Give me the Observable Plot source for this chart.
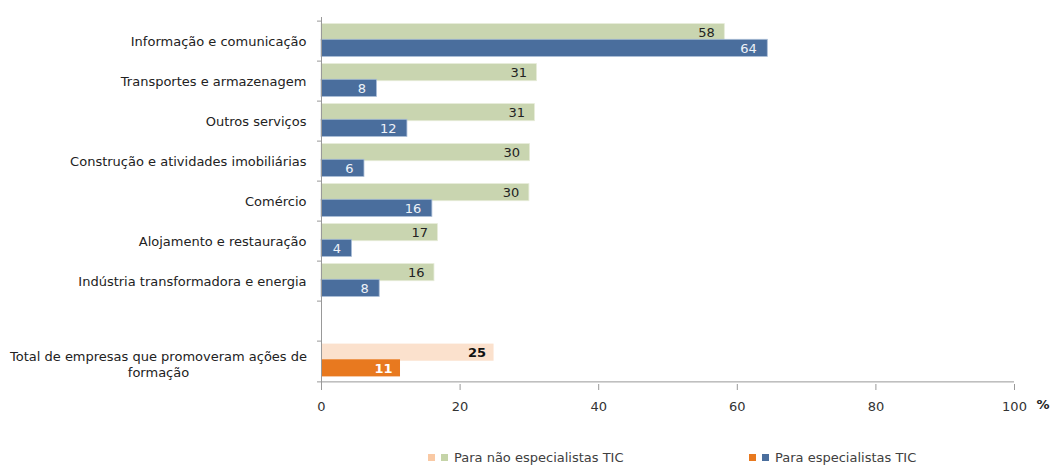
<!DOCTYPE html>
<html>
<head>
<meta charset="utf-8">
<script src="https://cdn.jsdelivr.net/npm/d3@7"></script>
<script src="https://cdn.jsdelivr.net/npm/@observablehq/plot@0.6"></script>
<style>
  body { margin: 0; background: #fff; font-family: "DejaVu Sans", sans-serif; }
  #wrap { position: relative; width: 1055px; height: 466px; }
  .legend { position: absolute; top: 450px; font-size: 13px; color: #404040; display: flex; align-items: center; }
  .sw { display: inline-block; width: 7px; height: 7px; margin-right: 6px; }
</style>
</head>
<body>
<div id="wrap"></div>
<script>
const sectors = [
  "Informação e comunicação",
  "Transportes e armazenagem",
  "Outros serviços",
  "Construção e atividades imobiliárias",
  "Comércio",
  "Alojamento e restauração",
  "Indústria transformadora e energia"
];
const totalLabel = "Total de empresas que promoveram ações de formação";
const naoEspecialistas = [58.2, 31.1, 30.8, 30.1, 30.0, 16.8, 16.3];
const especialistas = [64.4, 8.0, 12.4, 6.2, 16.0, 4.4, 8.4];
const totalNaoEspecialistas = 24.9;
const totalEspecialistas = 11.4;
const xTicks = [0, 20, 40, 60, 80, 100];
const legendLabels = ["Para não especialistas TIC", "Para especialistas TIC"];

const colors = { green: "#c9d5b0", blue: "#4a6e9d", lightOrange: "#fbe1cd", orange: "#e8791f" };
const legendColors = { lightOrange: "#f9c9a4", green: "#c5d4a8" };

const spacer = "__spacer__";
const domain = [...sectors, spacer, totalLabel];

const rowsNao = sectors.map((c, i) => ({cat: c, value: naoEspecialistas[i]}));
const rowsEsp = sectors.map((c, i) => ({cat: c, value: especialistas[i]}));
const totNao = [{cat: totalLabel, value: totalNaoEspecialistas}];
const totEsp = [{cat: totalLabel, value: totalEspecialistas}];

const W = 1055, H = 430, mT = 17, mB = 46, mL = 321, mR = 41;
const bw = (H - mT - mB) / domain.length;
const greenTop = 2.6, greenBot = bw - 20.5;
const blueTop = 18.3, blueBot = 4.6;
const font = "DejaVu Sans, sans-serif";

const chart = Plot.plot({
  width: W, height: H,
  marginTop: mT, marginBottom: mB, marginLeft: mL, marginRight: mR,
  style: { fontFamily: font, fontSize: "13px", color: "#333", background: "#fff" },
  x: { domain: [0, 100] },
  y: { domain, padding: 0 },
  marks: [
    // bars
    Plot.barX(rowsNao, {y: "cat", x: "value", fill: colors.green, insetTop: greenTop, insetBottom: greenBot, stroke: "#e6ecd9", strokeWidth: 0.8}),
    Plot.barX(rowsEsp, {y: "cat", x: "value", fill: colors.blue, insetTop: blueTop, insetBottom: blueBot, stroke: "#a9bcd6", strokeWidth: 0.8}),
    Plot.barX(totNao, {y: "cat", x: "value", fill: colors.lightOrange, insetTop: greenTop, insetBottom: greenBot}),
    Plot.barX(totEsp, {y: "cat", x: "value", fill: colors.orange, insetTop: blueTop, insetBottom: blueBot}),
    // value labels
    Plot.text(rowsNao, {y: "cat", x: "value", text: d => d3.format(".0f")(d.value), textAnchor: "end", dx: -10, dy: -8.5, fill: "#222", fontSize: 13}),
    Plot.text(rowsEsp, {y: "cat", x: "value", text: d => d3.format(".0f")(d.value), textAnchor: "end", dx: -11, dy: 7.5, fill: "#eef2f8", fontSize: 13}),
    Plot.text(totNao, {y: "cat", x: "value", text: d => d3.format(".0f")(d.value), textAnchor: "end", dx: -8, dy: -8.5, fill: "#111", fontSize: 13, fontWeight: "bold"}),
    Plot.text(totEsp, {y: "cat", x: "value", text: d => d3.format(".0f")(d.value), textAnchor: "end", dx: -8, dy: 7.5, fill: "#fff", fontSize: 13, fontWeight: "bold"}),
    // y axis line and boundary ticks
    Plot.ruleX([0], {stroke: "#999"}),
    Plot.ruleY(domain, {y: d => d, x1: 0, x2: 0, insetLeft: -4, dy: -bw / 2, stroke: "#999"}),
    Plot.ruleY([totalLabel], {y: d => d, x1: 0, x2: 0, insetLeft: -4, dy: bw / 2, stroke: "#999"}),
    // x axis line
    Plot.ruleY([totalLabel], {y: d => d, x1: 0, x2: 100, dy: bw / 2, stroke: "#999"}),
    // axes
    Plot.axisX({ticks: xTicks, tickSize: 6, tickPadding: 11, label: null, stroke: "#999", fill: "#333", fontSize: 13}),
    Plot.axisY({tickSize: 0, tickPadding: 15, label: null, fill: "#222", fontSize: 13,
      tickFormat: d => sectors.includes(d) ? d : ""}),
    Plot.text([totalLabel], {x: 0, y: d => d, text: d => d.replace(" formação", "\nformação"),
      textAnchor: "middle", dx: -163, dy: 2, fill: "#222", fontSize: 13, lineHeight: 1.25}),
    // unit
    Plot.text(["%"], {frameAnchor: "bottom-right", dx: 35, dy: 24, fontWeight: "bold", fontSize: 13, fill: "#222"})
  ]
});

const wrap = document.getElementById("wrap");
wrap.appendChild(chart);

const legendDefs = [
  {x: 428, c1: legendColors.lightOrange, c2: legendColors.green, label: legendLabels[0]},
  {x: 749, c1: colors.orange, c2: colors.blue, label: legendLabels[1]}
];
for (const l of legendDefs) {
  const div = document.createElement("div");
  div.className = "legend";
  div.style.left = l.x + "px";
  div.innerHTML = `<span class="sw" style="background:${l.c1}"></span><span class="sw" style="background:${l.c2}"></span><span>${l.label}</span>`;
  wrap.appendChild(div);
}
</script>
</body>
</html>
